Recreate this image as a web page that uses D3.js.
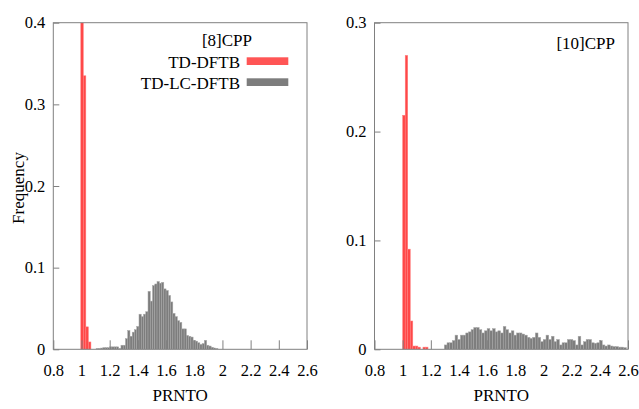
<!DOCTYPE html>
<html>
<head>
<meta charset="utf-8">
<script src="https://cdn.jsdelivr.net/npm/d3@7"></script>
<style>
  body { margin: 0; background: #fff; }
  svg text { font-family: "Liberation Serif", "DejaVu Serif", serif; fill: #000; }
  .axis path { display: none; }
  .axis line { stroke: #808080; }
</style>
</head>
<body>
<div id="chart"></div>
<script>
// x ticks shared by both panels
const xTicks = [0.8, 1, 1.2, 1.4, 1.6, 1.8, 2, 2.2, 2.4, 2.6];

// [8]CPP panel
const leftYTicks = [0, 0.1, 0.2, 0.3, 0.4];
const leftRedStart = 0.995, leftRedWidth = 0.018;
const leftRed = [0.40, 0.335, 0.0275, 0.009];
const leftGrayStart = 1.104, leftGrayWidth = 0.016;
const leftGray = [0.001, 0.001, 0.0015, 0.002, 0.002, 0.002,
  0.003, 0.003, 0.003, 0.003, 0.001, 0.005, 0.005, 0.013, 0.023, 0.016,
  0.021, 0.024, 0.028, 0.043, 0.040, 0.043, 0.046, 0.071, 0.059, 0.078,
  0.080, 0.083, 0.081, 0.082, 0.074, 0.072, 0.066, 0.058, 0.044, 0.040,
  0.035, 0.033, 0.025, 0.025, 0.017, 0.016, 0.015, 0.011, 0.010, 0.008,
  0.006, 0.007, 0.011, 0.005, 0.004, 0.0025, 0.0016, 0.001];

// [10]CPP panel
const rightYTicks = [0, 0.1, 0.2, 0.3];
const rightRedStart = 1.0, rightRedWidth = 0.018;
const rightRed = [0.215, 0.270, 0.092, 0.026, 0.003, 0.003, 0.002, 0, 0.002, 0.002];
const rightGrayStart = 1.296, rightGrayWidth = 0.019;
const rightGray = [0.004, 0.006, 0.006, 0.008, 0.013, 0.009, 0.013, 0.013, 0.015, 0.016,
  0.018, 0.020, 0.020, 0.018, 0.015, 0.017, 0.019, 0.017, 0.019, 0.016,
  0.017, 0.015, 0.021, 0.018, 0.015, 0.017, 0.013, 0.015, 0.015, 0.014,
  0.013, 0.011, 0.010, 0.011, 0.015, 0.011, 0.007, 0.009, 0.013, 0.009,
  0.012, 0.007, 0.009, 0.004, 0.006, 0.006, 0.009, 0.009, 0.008, 0.004,
  0.012, 0.004, 0.007, 0.009, 0.009, 0.006, 0.0055, 0.006, 0.008, 0.004,
  0.003, 0.004, 0.003, 0.0025, 0.0025, 0.002, 0.002, 0.0015];

const seriesNames = ["TD-DFTB", "TD-LC-DFTB"];
const redColor = "#ff4848", grayColor = "#7d7d7d";

const svg = d3.select("#chart").append("svg")
    .attr("width", 639)
    .attr("height", 409);

function toBins(values, start, width) {
  return values.map((v, i) => ({x0: start + i * width, x1: start + (i + 1) * width, v: v}));
}

function drawPanel(p) {
  const x = d3.scaleLinear().domain([0.8, 2.6]).range([p.left, p.right]);
  const y = d3.scaleLinear().domain([0, p.yMax]).range([p.bottom, p.top]);
  const g = svg.append("g");
  const clipId = "clip" + p.id;
  g.append("clipPath").attr("id", clipId).append("rect")
      .attr("x", p.left).attr("y", p.top)
      .attr("width", p.right - p.left).attr("height", p.bottom - p.top);

  const bars = g.append("g").attr("clip-path", "url(#" + clipId + ")");

  bars.selectAll(".gray")
      .data(toBins(p.gray, p.grayStart, p.grayWidth).filter(d => d.v > 0))
    .enter().append("rect")
      .attr("class", "gray")
      .attr("x", d => x(d.x0))
      .attr("width", d => x(d.x1) - x(d.x0))
      .attr("y", d => y(d.v))
      .attr("height", d => y(0) - y(d.v))
      .attr("fill", grayColor)
      .attr("stroke", "#a8a8a8")
      .attr("stroke-width", 0.5);

  bars.selectAll(".red")
      .data(toBins(p.red, p.redStart, p.redWidth).filter(d => d.v > 0))
    .enter().append("rect")
      .attr("class", "red")
      .attr("x", d => x(d.x0))
      .attr("width", d => x(d.x1) - x(d.x0))
      .attr("y", d => y(d.v))
      .attr("height", d => y(0) - y(d.v))
      .attr("fill", redColor)
      .attr("stroke", "#ff8080")
      .attr("stroke-width", 0.5);

  // axes, inward ticks
  g.append("g")
      .attr("class", "axis")
      .attr("transform", "translate(0," + p.bottom + ")")
      .call(d3.axisBottom(x).tickValues(xTicks).tickSize(-9).tickPadding(15)
        .tickFormat(d => String(+d.toFixed(1))))
      .selectAll("text").style("font-size", "16.5px");

  g.append("g")
      .attr("class", "axis")
      .attr("transform", "translate(" + p.left + ",0)")
      .call(d3.axisLeft(y).tickValues(p.yTicks).tickSize(-6).tickPadding(8)
        .tickFormat(d => String(+d.toFixed(1))))
      .selectAll("text").style("font-size", "16.5px");

  g.append("rect")
      .attr("x", p.left).attr("y", p.top)
      .attr("width", p.right - p.left).attr("height", p.bottom - p.top)
      .attr("fill", "none").attr("stroke", "#808080").attr("stroke-width", 1);

  g.append("text")
      .attr("x", (p.left + p.right) / 2).attr("y", 401)
      .attr("text-anchor", "middle")
      .style("font-size", "17px")
      .text("PRNTO");

  g.append("text")
      .attr("x", p.labelX).attr("y", p.labelY)
      .attr("text-anchor", "end")
      .style("font-size", "17px")
      .text(p.label);
}

drawPanel({id: "L", left: 53.3, right: 307, top: 22.7, bottom: 349.3, yMax: 0.4,
  yTicks: leftYTicks, red: leftRed, redStart: leftRedStart, redWidth: leftRedWidth,
  gray: leftGray, grayStart: leftGrayStart, grayWidth: leftGrayWidth,
  label: "[8]CPP", labelX: 252, labelY: 45.5});

drawPanel({id: "R", left: 374.5, right: 628, top: 22.7, bottom: 349.3, yMax: 0.3,
  yTicks: rightYTicks, red: rightRed, redStart: rightRedStart, redWidth: rightRedWidth,
  gray: rightGray, grayStart: rightGrayStart, grayWidth: rightGrayWidth,
  label: "[10]CPP", labelX: 615, labelY: 49});

// legend in the left panel
const legend = svg.append("g");
legend.selectAll("text")
    .data(seriesNames)
  .enter().append("text")
    .attr("x", 240)
    .attr("y", (d, i) => 67.5 + i * 21)
    .attr("text-anchor", "end")
    .style("font-size", "17px")
    .text(d => d);
legend.selectAll("rect")
    .data(seriesNames)
  .enter().append("rect")
    .attr("x", 246.7)
    .attr("y", (d, i) => 57.3 + i * 21)
    .attr("width", 41.6)
    .attr("height", 7.7)
    .attr("fill", (d, i) => i === 0 ? "#ff5555" : grayColor);

svg.append("text")
    .attr("transform", "translate(24,188) rotate(-90)")
    .attr("text-anchor", "middle")
    .style("font-size", "17px")
    .text("Frequency");
</script>
</body>
</html>
